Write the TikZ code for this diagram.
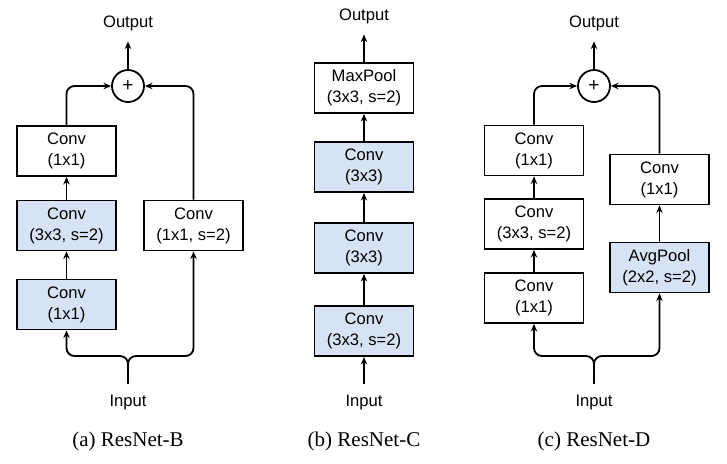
\documentclass[tikz,border=0pt]{standalone}
\usepackage{fontspec}
\setmainfont{Liberation Serif}
\setsansfont{Liberation Sans}
\usetikzlibrary{arrows.meta}
\definecolor{convblue}{RGB}{214,227,245}

\begin{document}
\begin{tikzpicture}[x=0.5pt, y=-0.5pt, line width=0.9pt,
    box/.style={draw, minimum width=49.5pt, minimum height=25pt, inner sep=1pt, align=center, font=\sffamily\fontsize{8.3}{10.5}\selectfont},
    bluebox/.style={box, fill=convblue},
    addop/.style={draw, circle, minimum size=16pt, inner sep=0pt, font=\sffamily\fontsize{9.5}{9.5}\selectfont},
    lbl/.style={inner ysep=5pt, font=\sffamily\fontsize{8.3}{10}\selectfont},
    subcap/.style={font=\fontsize{10.5}{12}\selectfont},
    arr/.style={-{Stealth[length=3.8pt,width=3.2pt]}},
    ]
    \useasboundingbox (0,0) rectangle (727,463);
    % (a) ResNet-B
    \node[lbl] (aout) at (128,23) {Output};
    \node[addop] (aadd) at (128,86) {+};
    \node[box] (aconv3) at (66.5,151) {Conv\\(1x1)};
    \node[bluebox] (aconv2) at (66.5,225.5) {Conv\\(3x3, s=2)};
    \node[bluebox] (aconv1) at (66.5,304.5) {Conv\\(1x1)};
    \node[box] (ashort) at (193.5,225.5) {Conv\\(1x1, s=2)};
    \coordinate (asplit) at (128,356);
    \node[lbl] (ain) at (128,402) {Input};
    \node[subcap] (acap) at (128,441) {(a) ResNet-B};
    \draw[arr] (aconv1) -- (aconv2);
    \draw[arr] (aconv2) -- (aconv3);
    \draw[arr, rounded corners=4pt] (aconv3.north) |- (aadd.west);
    \draw[arr, rounded corners=4pt] (ashort.north) |- (aadd.east);
    \draw[arr] (aadd) -- (aout);
    \draw[arr, rounded corners=4pt] (ain.north) -- (asplit) -| (aconv1.south);
    \draw[arr, rounded corners=4pt] (ain.north) -- (asplit) -| (ashort.south);
    % (b) ResNet-C
    \node[lbl] (bout) at (364,16) {Output};
    \node[box] (bpool) at (364,88) {MaxPool\\(3x3, s=2)};
    \node[bluebox] (bconv3) at (364,167) {Conv\\(3x3)};
    \node[bluebox] (bconv2) at (364,248) {Conv\\(3x3)};
    \node[bluebox] (bconv1) at (364,331) {Conv\\(3x3, s=2)};
    \node[lbl] (bin) at (364,402) {Input};
    \node[subcap] (bcap) at (364,441) {(b) ResNet-C};
    \draw[arr] (bin) -- (bconv1);
    \draw[arr] (bconv1) -- (bconv2);
    \draw[arr] (bconv2) -- (bconv3);
    \draw[arr] (bconv3) -- (bpool);
    \draw[arr] (bpool) -- (bout);
    % (c) ResNet-D
    \node[lbl] (cout) at (594,23) {Output};
    \node[addop] (cadd) at (594,86) {+};
    \node[box] (cconv3) at (534,150.5) {Conv\\(1x1)};
    \node[box] (cconv2) at (534,224) {Conv\\(3x3, s=2)};
    \node[box] (cconv1) at (534,298) {Conv\\(1x1)};
    \node[box] (cshort) at (659.5,179.5) {Conv\\(1x1)};
    \node[bluebox] (cpool) at (659.5,267.5) {AvgPool\\(2x2, s=2)};
    \coordinate (csplit) at (594,356);
    \node[lbl] (cin) at (594,402) {Input};
    \node[subcap] (ccap) at (594,441) {(c) ResNet-D};
    \draw[arr] (cconv1) -- (cconv2);
    \draw[arr] (cconv2) -- (cconv3);
    \draw[arr] (cpool) -- (cshort);
    \draw[arr, rounded corners=4pt] (cconv3.north) |- (cadd.west);
    \draw[arr, rounded corners=4pt] (cshort.north) |- (cadd.east);
    \draw[arr] (cadd) -- (cout);
    \draw[arr, rounded corners=4pt] (cin.north) -- (csplit) -| (cconv1.south);
    \draw[arr, rounded corners=4pt] (cin.north) -- (csplit) -| (cpool.south);
\end{tikzpicture}
\end{document}
